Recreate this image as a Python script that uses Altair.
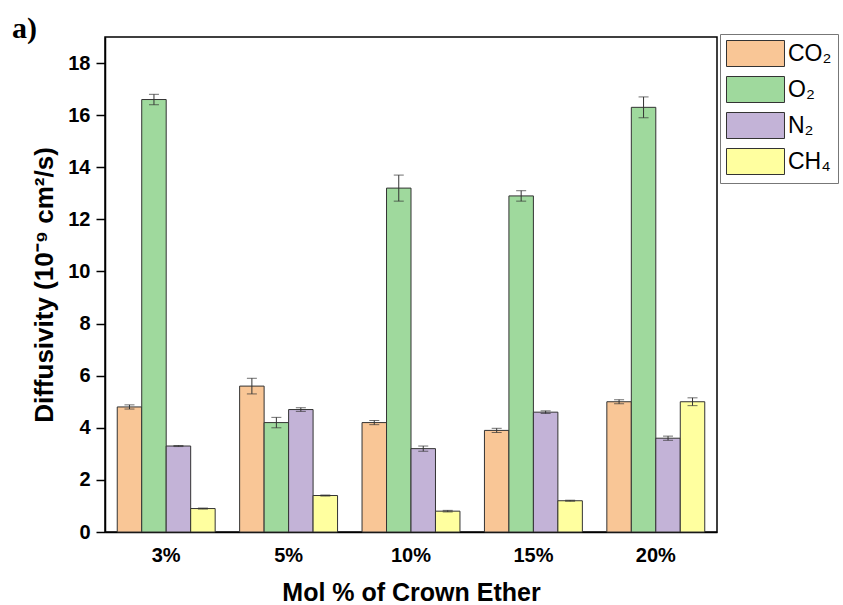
import altair as alt
import pandas as pd

# Crown ether loading (mol %) and gas species
loadings = ["3%", "5%", "10%", "15%", "20%"]
gases = ["CO₂", "O₂", "N₂", "CH₄"]
colors = ["#F9C696", "#9FD99D", "#C3B3D7", "#FFFF9F"]

# Diffusivity (1e-9 cm^2/s), one list per gas, ordered as in `loadings`
co2 = [4.8, 5.6, 4.2, 3.9, 5.0]
o2 = [16.6, 4.2, 13.2, 12.9, 16.3]
n2 = [3.3, 4.7, 3.2, 4.6, 3.6]
ch4 = [0.9, 1.4, 0.8, 1.2, 5.0]

# Standard deviations
co2_err = [0.08, 0.3, 0.08, 0.08, 0.08]
o2_err = [0.2, 0.2, 0.5, 0.2, 0.4]
n2_err = [0.02, 0.07, 0.1, 0.05, 0.08]
ch4_err = [0.02, 0.02, 0.03, 0.02, 0.15]

rows = []
for gas, vals, errs in zip(gases, [co2, o2, n2, ch4], [co2_err, o2_err, n2_err, ch4_err]):
    for load, v, e in zip(loadings, vals, errs):
        rows.append({"loading": load, "gas": gas, "value": v,
                     "lo": v - e, "hi": v + e})
df = pd.DataFrame(rows)

FONT = "Liberation Sans"

x_enc = alt.X(
    "loading:N", sort=loadings,
    scale=alt.Scale(paddingInner=0.2, paddingOuter=0.1),
    axis=alt.Axis(title="Mol % of Crown Ether", labelAngle=0, ticks=False,
                  labelFont=FONT, labelFontSize=20, labelFontWeight="bold",
                  labelColor="black", labelPadding=13,
                  titleFont=FONT, titleFontSize=25, titleFontWeight="bold",
                  titleColor="black", titlePadding=15,
                  domainColor="black", domainWidth=1.5),
)
off_enc = alt.XOffset("gas:N", sort=gases,
                      scale=alt.Scale(paddingInner=0, paddingOuter=0))
y_scale = alt.Scale(domain=[0, 19], nice=False)

# symbols: wide rectangles drawn from a unit path, shifted to sit at the legend edge
legend = alt.Legend(
    title=None, orient="none", legendX=615, legendY=-3,
    symbolType="M-2.23,-1L2.23,-1L2.23,1L-2.23,1Z", symbolSize=676,
    symbolOffset=16, symbolStrokeColor="#333333", symbolStrokeWidth=1,
    labelFont=FONT, labelFontSize=23, labelColor="black", labelOffset=19,
    rowPadding=5, padding=6, strokeColor="#777777", fillColor="white",
    labelLimit=200,
)

bars = alt.Chart(df).mark_bar(stroke="#333333", strokeWidth=1).encode(
    x=x_enc,
    xOffset=off_enc,
    y=alt.Y(
        "value:Q", scale=y_scale,
        axis=alt.Axis(title="Diffusivity (10⁻⁹ cm²/s)",
                      values=list(range(0, 19)), grid=False,
                      labelExpr="datum.value % 2 === 0 ? datum.label : ''",
                      tickSize={"condition": {"test": "datum.value % 2 === 0",
                                              "value": 9},
                                "value": 5},
                      tickWidth=1.5, tickColor="black",
                      labelFont=FONT, labelFontSize=20, labelFontWeight="bold",
                      labelColor="black", labelPadding=6,
                      titleFont=FONT, titleFontSize=26, titleFontWeight="bold",
                      titleColor="black", titlePadding=10,
                      domainColor="black", domainWidth=1.5),
    ),
    color=alt.Color("gas:N", sort=gases,
                    scale=alt.Scale(domain=gases, range=colors),
                    legend=legend),
)

whisker = alt.Chart(df).mark_rule(color="#333333", strokeWidth=1).encode(
    x=alt.X("loading:N", sort=loadings), xOffset=off_enc,
    y=alt.Y("lo:Q", scale=y_scale), y2="hi:Q",
)
cap_lo = alt.Chart(df).mark_tick(color="#333333", thickness=1, size=10).encode(
    x=alt.X("loading:N", sort=loadings), xOffset=off_enc,
    y=alt.Y("lo:Q", scale=y_scale),
)
cap_hi = alt.Chart(df).mark_tick(color="#333333", thickness=1, size=10).encode(
    x=alt.X("loading:N", sort=loadings), xOffset=off_enc,
    y=alt.Y("hi:Q", scale=y_scale),
)

chart = alt.layer(bars, whisker, cap_lo, cap_hi).properties(
    width=612, height=495,
    background="white",
    title=alt.TitleParams("a)", anchor="start", frame="group", dx=-93, dy=14,
                          font="Liberation Serif", fontSize=30,
                          fontWeight="bold", color="black"),
    autosize=alt.AutoSizeParams(type="none"),
    padding={"left": 105, "top": 37, "right": 126, "bottom": 73},
).configure_view(
    stroke="black", strokeWidth=1.5,
)

chart.save("out.html", embed_options={"renderer": "svg", "actions": False})
